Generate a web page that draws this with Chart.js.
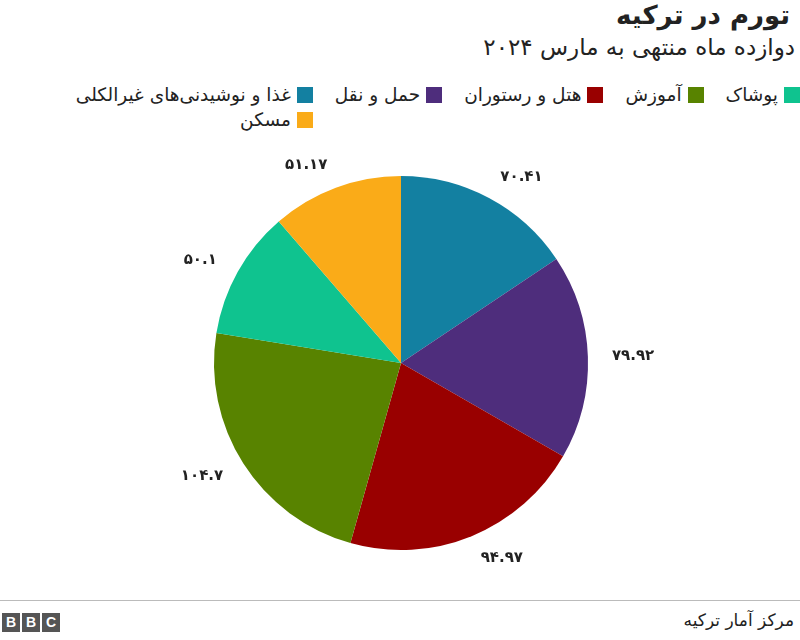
<!DOCTYPE html>
<html lang="fa">
<head>
<meta charset="utf-8">
<script src="https://cdn.jsdelivr.net/npm/chart.js@4"></script>
<style>
    html, body { margin: 0; padding: 0; background: #fff; }
    body { width: 800px; height: 640px; position: relative; overflow: hidden; font-family: 'DejaVu Sans', sans-serif; }
    #title { position: absolute; right: 10px; top: 0px; font-size: 26px; font-weight: bold; color: #222; direction: rtl; }
    #subtitle { position: absolute; right: 5px; top: 34px; font-size: 23px; color: #222; direction: rtl; }
    #legend { position: absolute; right: 0; top: 84px; display: grid; grid-template-columns: repeat(5, auto); column-gap: 22px; row-gap: 4px; justify-items: end; direction: ltr; }
    .item { display: flex; direction: rtl; align-items: center; font-size: 18.5px; color: #222; }
    .box { width: 16px; height: 16px; margin-left: 6px; }
    #chartBox { position: absolute; left: 0; top: 120px; width: 800px; height: 470px; }
    #rule { position: absolute; left: 0; right: 0; top: 600px; height: 1px; background: #bbb; }
    #logo { position: absolute; left: 2px; top: 613px; display: flex; gap: 2px; }
    #logo span { width: 18px; height: 19px; background: #555; color: #fff; font: bold 14px 'Liberation Sans', sans-serif; text-align: center; line-height: 19px; }
    #source { position: absolute; right: 6px; top: 610px; font-size: 17px; color: #222; direction: rtl; }
</style>
</head>
<body>
<div id="title">تورم در ترکیه</div>
<div id="subtitle">دوازده ماه منتهی به مارس ۲۰۲۴</div>
<div id="legend"></div>
<div id="chartBox"><canvas id="inflationPie"></canvas></div>
<div id="rule"></div>
<div id="logo"><span>B</span><span>B</span><span>C</span></div>
<div id="source">مرکز آمار ترکیه</div>

<script>
const categories = ['غذا و نوشیدنی‌های غیرالکلی', 'حمل و نقل', 'هتل و رستوران', 'آموزش', 'پوشاک', 'مسکن'];
const inflation = [70.41, 79.92, 94.97, 104.7, 50.1, 51.17];
const colors = ['#1380A1', '#4E2D7C', '#990000', '#588300', '#0FC38F', '#FAAB18'];

function toPersianDigits(text) {
    return text.replace(/\d/g, d => '۰۱۲۳۴۵۶۷۸۹'[d]);
}

//#region Legend
const legendBox = document.getElementById('legend');
categories.forEach((name, i) => {
    const item = document.createElement('div');
    item.className = 'item';
    const box = document.createElement('span');
    box.className = 'box';
    box.style.background = colors[i];
    const label = document.createElement('span');
    label.textContent = name;
    item.appendChild(box);
    item.appendChild(label);
    legendBox.appendChild(item);
});
//#endregion

// values drawn outside each slice, anchored away from the centre
const outsideLabels = {
    id: 'outsideLabels',
    afterDatasetsDraw(chart) {
        const ctx = chart.ctx;
        const meta = chart.getDatasetMeta(0);
        ctx.save();
        ctx.font = 'bold 15px "DejaVu Sans"';
        ctx.fillStyle = '#222';
        ctx.textBaseline = 'middle';
        meta.data.forEach((arc, i) => {
            const mid = (arc.startAngle + arc.endAngle) / 2;
            const r = arc.outerRadius + 24;
            const x = arc.x + Math.cos(mid) * r;
            const y = arc.y + Math.sin(mid) * r;
            ctx.textAlign = Math.cos(mid) >= 0 ? 'left' : 'right';
            ctx.fillText(toPersianDigits(String(inflation[i])), x, y);
        });
        ctx.restore();
    }
};

const config = {
    type: 'pie',
    data: {
        labels: categories,
        datasets: [{
            data: inflation,
            backgroundColor: colors,
            borderWidth: 0
        }]
    },
    options: {
        responsive: true,
        maintainAspectRatio: false,
        animation: false,
        layout: {
            padding: { top: 56, bottom: 40, left: 2, right: 0 }
        },
        plugins: {
            legend: { display: false },
            tooltip: { enabled: false }
        }
    },
    plugins: [outsideLabels]
};

new Chart(document.getElementById('inflationPie'), config);
</script>
</body>
</html>
